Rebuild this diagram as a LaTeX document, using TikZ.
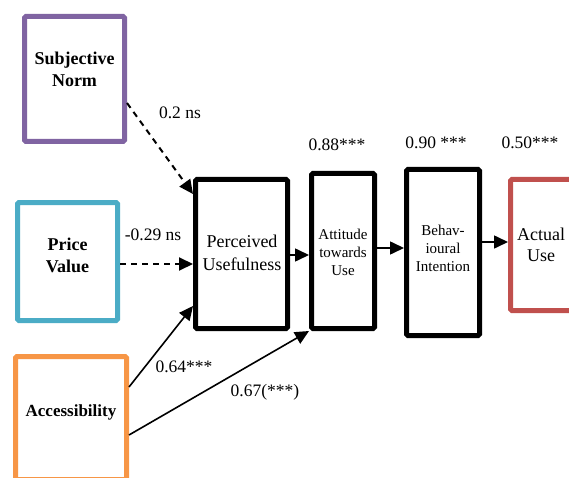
\documentclass[tikz,border=0pt]{standalone}
\usepackage{fontspec}
\setmainfont{Liberation Serif}
\usetikzlibrary{arrows.meta}
\definecolor{cpurple}{HTML}{8064A2}
\definecolor{cblue}{HTML}{4BACC6}
\definecolor{corange}{HTML}{F79646}
\definecolor{cred}{HTML}{C0504D}
\tikzset{
  box/.style={draw, line width=5pt, rounded corners=1.5pt, fill=white, inner sep=0pt},
  inbox/.style={box, draw=#1},
  lbl/.style={font=\fontsize{17.5}{20}\selectfont, inner sep=0pt},
  bigtxt/.style={font=\fontsize{18}{23}\selectfont, align=center, inner sep=0pt},
  smalltxt/.style={font=\fontsize{15}{18}\selectfont, align=center, inner sep=0pt},
  boldtxt/.style={font=\bfseries\fontsize{18}{22}\selectfont, align=center, inner sep=0pt},
  conn/.style={line width=1.6pt, -{Triangle[length=14pt,width=13pt]}},
  dconn/.style={conn, line width=2pt, dash pattern=on 6pt off 5pt}
}
\begin{document}
\begin{tikzpicture}[x=1pt,y=-1pt]
\useasboundingbox (0,0) rectangle (569,478);
% input boxes
\node[inbox=cpurple, minimum width=100pt, minimum height=125pt] (sn) at (74.5,79) {};
\node[boldtxt] (sntxt) at (74.5,69) {Subjective\\Norm};
\node[inbox=cblue, minimum width=100pt, minimum height=118pt] (pv) at (67.5,261.5) {};
\node[boldtxt] (pvtxt) at (67.5,255) {Price\\Value};
\node[inbox=corange, minimum width=111pt, minimum height=123pt] (ac) at (71,418) {};
\node[boldtxt, font=\bfseries\fontsize{17}{21}\selectfont] (actxt) at (71,412) {Accessibility};
% chain boxes
\node[box, minimum width=92pt, minimum height=149pt] (pu) at (241.5,254) {};
\node[bigtxt] (putxt) at (242,253) {Perceived\\Usefulness};
\node[box, minimum width=63pt, minimum height=155pt] (at) at (343,251) {};
\node[smalltxt] (attxt) at (343,252) {Attitude\\towards\\Use};
\node[box, minimum width=73pt, minimum height=166pt] (bi) at (443,252.5) {};
\node[smalltxt] (bitxt) at (443,248) {Behav-\\ioural\\Intention};
\node[inbox=cred, minimum width=63pt, minimum height=131pt] (au) at (542,245) {};
\node[bigtxt, font=\fontsize{18}{21}\selectfont] (autxt) at (541,245) {Actual\\Use};
% connectors
\draw[dconn] ([yshift=-24pt]sn.east) -- ([yshift=60pt]pu.west);
\draw[dconn] ([yshift=-2.5pt]pv.east) -- ([yshift=-2.5pt]pv.east -| pu.west);
\draw[conn] ([yshift=31pt]ac.east) -- ([yshift=-52pt]pu.west);
\draw[conn] ([yshift=-17pt]ac.east) -- (at.south west);
\draw[conn] ([yshift=-1pt]pu.east) -- ([yshift=-1pt]pu.east -| at.west);
\draw[conn] ([yshift=3pt]at.east) -- ([yshift=3pt]at.east -| bi.west);
\draw[conn] ([yshift=3pt]au.west -| bi.east) -- ([yshift=3pt]au.west);
% labels
\node[lbl] (l1) at (180,113) {0.2 ns};
\node[lbl] (l2) at (153,235) {-0.29 ns};
\node[lbl] (l3) at (184,367) {0.64***};
\node[lbl] (l4) at (265,392) {0.67(***)};
\node[lbl] (l5) at (337,145) {0.88***};
\node[lbl] (l6) at (436,143) {0.90 ***};
\node[lbl] (l7) at (530,143) {0.50***};
\end{tikzpicture}
\end{document}
